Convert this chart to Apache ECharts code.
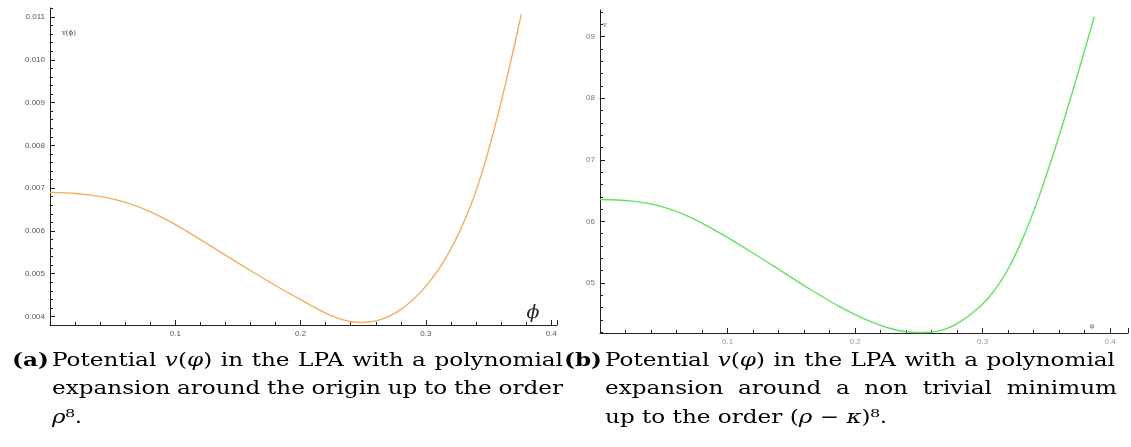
<!DOCTYPE html>
<html><head><meta charset="utf-8">
<script src="https://cdn.jsdelivr.net/npm/echarts@6/dist/echarts.min.js"></script>
<style>html,body{margin:0;padding:0;background:#fff}#c{width:1131px;height:447px}</style>
</head><body><div id="c"></div>
<script>
// Panel (a): potential v(phi), expansion around the origin
const phiA = [0, 0.021, 0.0409, 0.0609, 0.0808, 0.1008, 0.1207, 0.1407, 0.1606, 0.1806, 0.2005, 0.2205, 0.2325, 0.2404, 0.2484, 0.2564, 0.2644, 0.2724, 0.2804, 0.2883, 0.2963, 0.3043, 0.3123, 0.3203, 0.3282, 0.3362, 0.3442, 0.3522, 0.3602, 0.3682, 0.3761];
const vA   = [0.00690, 0.006875, 0.00680, 0.00666, 0.006438, 0.006135, 0.005785, 0.005423, 0.005062, 0.004712, 0.004385, 0.00407, 0.00393, 0.003876, 0.00386, 0.003876, 0.003932, 0.004028, 0.004172, 0.004354, 0.004586, 0.004866, 0.0052, 0.0056, 0.006066, 0.006626, 0.007314, 0.008122, 0.009034, 0.010026, 0.011061];
// Panel (b): potential v(phi), expansion around a non trivial minimum
const phiB = [0, 0.0235, 0.0471, 0.0706, 0.0941, 0.1176, 0.1412, 0.1647, 0.1882, 0.2118, 0.2314, 0.2471, 0.2588, 0.2706, 0.2824, 0.2980, 0.3059, 0.3137, 0.3216, 0.3294, 0.3373, 0.3451, 0.3529, 0.3608, 0.3686, 0.3765, 0.3843, 0.3875];
const vB   = [0.06356, 0.06333, 0.06247, 0.06068, 0.05808, 0.05515, 0.05207, 0.04898, 0.04613, 0.04377, 0.04239, 0.04194, 0.04198, 0.04251, 0.04369, 0.04619, 0.04793, 0.05011, 0.05288, 0.05623, 0.06018, 0.06455, 0.06931, 0.07445, 0.07975, 0.08528, 0.0909, 0.09324];

const yMajorA = [0.004, 0.005, 0.006, 0.007, 0.008, 0.009, 0.010, 0.011];
const yMajorB = [0.05, 0.06, 0.07, 0.08, 0.09];
const xLabels = ['0.1', '0.2', '0.3', '0.4'];

function minors(lo, hi, step, majorStep) {
  const out = [];
  const n = Math.round((hi - lo) / step);
  for (let i = 0; i <= n; i++) {
    const v = +(lo + i * step).toFixed(6);
    const r = v / majorStep;
    if (Math.abs(r - Math.round(r)) > 1e-6) out.push(v);
  }
  return out;
}
const yMinorA = minors(0.0038, 0.0112, 0.0002, 0.001);
const yMinorB = minors(0.042, 0.094, 0.002, 0.01);

const axisCol = '#222';
const lblFont = {fontFamily: 'Liberation Sans', fontSize: 8, color: '#555'};

function xAxisDef(grid, max, lblColor) {
  return {
    type: 'value', gridIndex: grid, min: 0, max: max, interval: 0.1,
    axisLine: {show: true, onZero: false, lineStyle: {color: axisCol, width: 1}},
    axisTick: {show: true, inside: true, length: 5, lineStyle: {color: axisCol, width: 1}},
    minorTick: {show: true, splitNumber: 5, length: 3, lineStyle: {color: axisCol, width: 1}},
    splitLine: {show: false},
    axisLabel: Object.assign({}, lblFont, {color: lblColor, margin: 5,
      formatter: v => { const k = Math.round(v * 10); return (k >= 1 && k <= xLabels.length && Math.abs(v * 10 - k) < 1e-6) ? xLabels[k - 1] : ''; }})
  };
}
function yMajorDef(grid, min, max, ticks, fmt, color) {
  return {
    type: 'value', gridIndex: grid, min: min, max: max, position: 'left',
    axisLine: {show: true, onZero: false, lineStyle: {color: axisCol, width: 1}},
    axisTick: {show: true, inside: true, length: 5, customValues: ticks, lineStyle: {color: axisCol, width: 1}},
    axisLabel: Object.assign({}, lblFont, {color: color, margin: 5, customValues: ticks, formatter: fmt}),
    splitLine: {show: false}
  };
}
function yMinorDef(grid, min, max, ticks) {
  return {
    type: 'value', gridIndex: grid, min: min, max: max, position: 'left',
    axisLine: {show: false},
    axisTick: {show: true, inside: true, length: 3, customValues: ticks, lineStyle: {color: axisCol, width: 1}},
    axisLabel: {show: false, customValues: ticks},
    splitLine: {show: false}
  };
}

// ---- captions (justified like the LaTeX source) ----
const capFont = 18.5, capScale = 1.25, serif = 'DejaVu Serif';
const rich = {
  b: {fontFamily: serif, fontSize: capFont, fontWeight: 'bold', color: '#000'},
  n: {fontFamily: serif, fontSize: capFont, color: '#000'},
  i: {fontFamily: serif, fontSize: capFont, fontStyle: 'italic', color: '#000'}
};
const mctx = document.createElement('canvas').getContext('2d');
function fontStr(st) { return (st === 'i' ? 'italic ' : '') + (st === 'b' ? 'bold ' : '') + capFont + 'px "' + serif + '"'; }
function measure(tokens) { let w = 0; tokens.forEach(([st, t]) => { mctx.font = fontStr(st); w += mctx.measureText(t).width; }); return w; }
function richStr(tokens) { return tokens.map(([st, t]) => '{' + st + '|' + t + '}').join(''); }
function capLine(x0, y, words, x1) {
  const widths = words.map(measure);
  const total = widths.reduce((a, b) => a + b, 0);
  mctx.font = fontStr('n');
  const sp = mctx.measureText(' ').width;
  const gap = (x1 == null || words.length < 2) ? sp : ((x1 - x0) / capScale - total) / (words.length - 1);
  const children = [];
  let cx = 0;
  words.forEach((w, k) => {
    children.push({type: 'text', x: cx, y: 0, style: {text: richStr(w), rich: rich, verticalAlign: 'middle', align: 'left', fontFamily: serif, fontSize: capFont, fill: '#000'}});
    cx += widths[k] + gap;
  });
  return {type: 'group', x: x0, y: y, scaleX: capScale, children: children};
}
const W = s => s.split(' ').map(t => [['n', t]]);
const vphi = [['i', 'v'], ['n', '('], ['i', 'φ'], ['n', ')']];
const line1 = [[['n', 'Potential']], vphi].concat(W('in the LPA with a polynomial'));

const captions = [
  capLine(12, 361, [[['b', '(a)']]], null),
  capLine(52, 361, line1, 563),
  capLine(52, 389.5, W('expansion around the origin up to the order'), 563),
  capLine(52, 418, [[['i', 'ρ'], ['n', '⁸.']]], null),
  capLine(564, 361, [[['b', '(b)']]], null),
  capLine(605, 361, line1, 1115),
  capLine(605, 389.5, W('expansion around a non trivial minimum'), 1117),
  capLine(605, 418, W('up to the order').concat([[['n', '('], ['i', 'ρ']], [['n', '−']], [['i', 'κ'], ['n', ')⁸.']]]), null)
];

const chart = echarts.init(document.getElementById('c'), null, {renderer: 'canvas'});
chart.setOption({
  backgroundColor: '#fff',
  animation: false,
  grid: [
    {left: 50, top: 8, width: 507, height: 317},
    {left: 600, top: 10, width: 528, height: 323}
  ],
  xAxis: [xAxisDef(0, 0.4046, '#555'), xAxisDef(1, 0.414, '#999')],
  yAxis: [
    yMajorDef(0, 0.0038, 0.01121, yMajorA, v => v.toFixed(3), '#555'),
    yMinorDef(0, 0.0038, 0.01121, yMinorA),
    yMajorDef(1, 0.04187, 0.09434, yMajorB, v => '0' + Math.round(v * 100), '#777'),
    yMinorDef(1, 0.04187, 0.09434, yMinorB)
  ],
  series: [
    {type: 'line', xAxisIndex: 0, yAxisIndex: 0, smooth: 0.3, showSymbol: false,
     lineStyle: {color: '#F2AE5C', width: 1.4}, data: phiA.map((p, i) => [p, vA[i]])},
    {type: 'line', xAxisIndex: 1, yAxisIndex: 2, smooth: 0.3, showSymbol: false,
     lineStyle: {color: '#62E262', width: 1.4}, data: phiB.map((p, i) => [p, vB[i]])}
  ],
  graphic: [
    {type: 'text', x: 69, y: 33, style: {text: 'v(ϕ)', fontFamily: 'DejaVu Serif', fontSize: 7, fill: '#444', align: 'center', verticalAlign: 'middle'}},
    {type: 'text', x: 533, y: 313, style: {text: 'ϕ', fontFamily: 'DejaVu Serif', fontStyle: 'italic', fontSize: 19, fill: '#222', align: 'center', verticalAlign: 'middle'}},
    {type: 'text', x: 605, y: 25, style: {text: 'v', fontFamily: 'DejaVu Serif', fontSize: 7, fill: '#666', align: 'center', verticalAlign: 'middle'}},
    {type: 'text', x: 1092, y: 326, style: {text: 'φ', fontFamily: 'DejaVu Serif', fontSize: 7, fill: '#666', align: 'center', verticalAlign: 'middle'}}
  ].concat(captions)
});
</script></body></html>
